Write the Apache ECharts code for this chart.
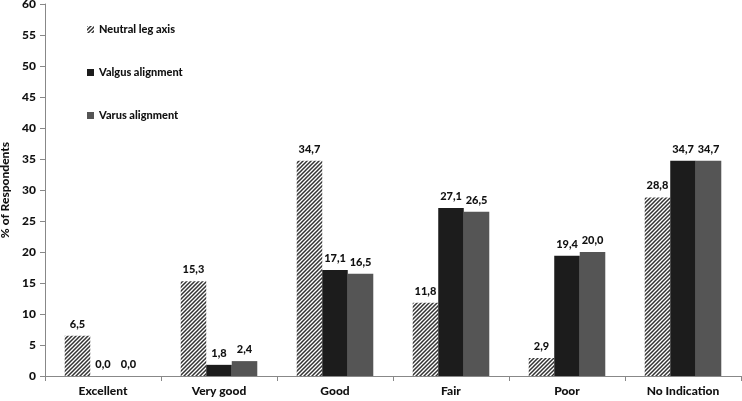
<!DOCTYPE html>
<html><head><meta charset="utf-8">
<script src="https://cdn.jsdelivr.net/npm/echarts@6/dist/echarts.min.js"></script>
<style>html,body{margin:0;padding:0;background:#fff}#c{width:742px;height:401px}</style>
</head><body><div id="c"></div>
<script>
const categories = ['Excellent','Very good','Good','Fair','Poor','No Indication'];
const neutral = [6.5, 15.3, 34.7, 11.8, 2.9, 28.8];
const valgus = [0.0, 1.8, 17.1, 27.1, 19.4, 34.7];
const varus = [0.0, 2.4, 16.5, 26.5, 20.0, 34.7];
const seriesNames = ['Neutral leg axis','Valgus alignment','Varus alignment'];

function hatch(){
  const c = document.createElement('canvas');
  c.width = 4; c.height = 4;
  const g = c.getContext('2d');
  g.fillStyle = '#ffffff'; g.fillRect(0,0,4,4);
  g.strokeStyle = '#333333'; g.lineWidth = 1.5;
  g.beginPath();
  g.moveTo(-1,5); g.lineTo(5,-1);
  g.moveTo(-1,1); g.lineTo(1,-1);
  g.moveTo(3,5); g.lineTo(5,3);
  g.stroke();
  return c;
}
const font = 'Lato';
const W = 900;
const lbl = {show:true, position:'top', distance:6, color:'#111', fontWeight:W, fontSize:11, fontFamily:font,
  formatter: p => p.value.toFixed(1).replace('.', ',')};
const chart = echarts.init(document.getElementById('c'));
chart.setOption({
  animation:false,
  backgroundColor:'#fff',
  grid:{left:45, right:1, top:4, bottom:25, containLabel:false, outerBoundsMode:'none'},
  legend:{orient:'vertical', left:82, top:19, itemGap:32, itemWidth:7, itemHeight:7, icon:'rect',
    textStyle:{fontFamily:font, fontWeight:W, fontSize:11, color:'#111'},
    data:seriesNames},
  xAxis:{type:'category', data:categories,
    axisLine:{lineStyle:{color:'#888'}}, axisTick:{show:true, length:5, lineStyle:{color:'#888'}},
    axisLabel:{fontFamily:font, fontWeight:W, fontSize:12, color:'#111', margin:9}},
  yAxis:{type:'value', min:0, max:60, interval:5, name:'% of Respondents', nameLocation:'middle', nameGap:29,
    nameTextStyle:{fontFamily:font, fontWeight:W, fontSize:12, color:'#111'},
    splitLine:{show:false},
    axisLine:{show:true, lineStyle:{color:'#888'}}, axisTick:{show:true, length:5, lineStyle:{color:'#888'}},
    axisLabel:{fontFamily:font, fontWeight:W, fontSize:12, color:'#111', margin:9}},
  series:[
    {name:seriesNames[0], type:'bar', data:neutral, barGap:'0%', barCategoryGap:'34%',
      itemStyle:{color:{image:hatch(), repeat:'repeat'}}, label:lbl},
    {name:seriesNames[1], type:'bar', data:valgus, itemStyle:{color:'#1c1c1c'}, label:lbl},
    {name:seriesNames[2], type:'bar', data:varus, itemStyle:{color:'#555555'}, label:lbl}
  ]
});
</script></body></html>
